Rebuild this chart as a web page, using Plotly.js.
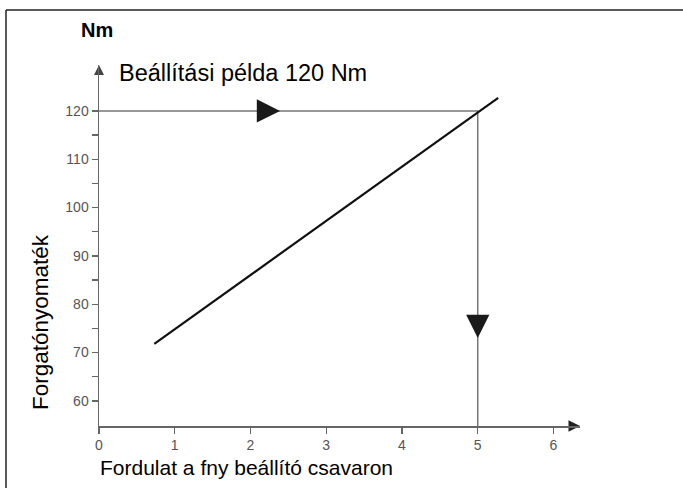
<!DOCTYPE html>
<html>
<head>
<meta charset="utf-8">
<script src="https://cdn.plot.ly/plotly-3.0.1.min.js"></script>
<style>html,body{margin:0;padding:0;background:#fff;}#chart{width:683px;height:488px;}</style>
</head>
<body>
<div id="chart"></div>
<script>
// ---- data ----
const xTickVals = [0, 1, 2, 3, 4, 5, 6];
const xTickText = ['0', '1', '2', '3', '4', '5', '6'];
const yTickVals = [60, 65, 70, 75, 80, 85, 90, 95, 100, 105, 110, 115, 120];
const yTickText = ['60', '', '70', '', '80', '', '90', '', '100', '', '110', '', '120'];
const torqueX = [0.73, 5.27];          // Fordulat
const torqueY = [71.8, 122.7];         // Nm
const exampleX = [0, 5, 5];            // example path: 120 Nm -> 5 turns
const exampleY = [120, 120, 54.8];
const arrowRight = {x: 2.39, y: 120, tailX: 2.15};
const arrowDown = {x: 5, y: 73.0, tailY: 77.5};
const xRange = [0, 6.35];
const yRange = [54.8, 129.5];

const FONT = 'Liberation Sans, Arial, sans-serif';
const AX = '#666';

const traces = [
  {x: exampleX, y: exampleY, mode: 'lines', line: {color: '#777', width: 1.5}, hoverinfo: 'skip'},
  {x: torqueX, y: torqueY, mode: 'lines', line: {color: '#111', width: 2.2}, hoverinfo: 'skip'},
  {x: [xRange[1]], y: [yRange[0]], mode: 'markers', cliponaxis: false,
   marker: {symbol: 'arrow-right', size: 11.5, color: '#222'}, hoverinfo: 'skip'},
  {x: [0], y: [yRange[1]], mode: 'markers', cliponaxis: false,
   marker: {symbol: 'arrow-up', size: 10, color: '#444'}, hoverinfo: 'skip'}
];

const px = v => (v - 99) / 481;
const py = v => (426 - v) / 361;

const layout = {
  width: 683, height: 488,
  margin: {l: 99, r: 103, t: 65, b: 62},
  paper_bgcolor: '#fff', plot_bgcolor: '#fff',
  showlegend: false,
  font: {family: FONT, color: '#000'},
  xaxis: {range: xRange, tickvals: xTickVals, ticktext: xTickText, showline: true, linecolor: AX, linewidth: 1.5,
          ticks: 'outside', ticklen: 6, tickcolor: AX, tickwidth: 1.3, showgrid: false, zeroline: false,
          tickfont: {size: 14, color: '#555', family: FONT}, fixedrange: true},
  yaxis: {range: yRange, tickvals: yTickVals, ticktext: yTickText, showline: true, linecolor: AX, linewidth: 1.5,
          ticks: 'outside', ticklen: 6, tickcolor: AX, tickwidth: 1.3, showgrid: false, zeroline: false,
          tickfont: {size: 14, color: '#555', family: FONT}, fixedrange: true},
  shapes: [
    {type: 'line', xref: 'paper', yref: 'paper', x0: px(6), x1: px(690), y0: py(10), y1: py(10), line: {color: '#222', width: 1.5}},
    {type: 'line', xref: 'paper', yref: 'paper', x0: px(6), x1: px(6), y0: py(10), y1: py(495), line: {color: '#222', width: 1.5}}
  ],
  annotations: [
    {xref: 'paper', yref: 'paper', x: px(79), y: py(30), xanchor: 'left', yanchor: 'middle', showarrow: false,
     text: '<b>Nm</b>', font: {size: 20, family: FONT}},
    {xref: 'paper', yref: 'paper', x: px(117), y: py(73), xanchor: 'left', yanchor: 'middle', showarrow: false,
     text: 'Beállítási példa 120 Nm', font: {size: 23.5, family: FONT}},
    {xref: 'paper', yref: 'paper', x: px(40), y: py(322), xanchor: 'center', yanchor: 'middle', showarrow: false,
     textangle: -90, text: 'Forgatónyomaték', font: {size: 22.5, family: FONT}},
    {xref: 'paper', yref: 'paper', x: px(98), y: py(467), xanchor: 'left', yanchor: 'middle', showarrow: false,
     text: 'Fordulat a fny beállító csavaron', font: {size: 21, family: FONT}},
    {xref: 'x', yref: 'y', axref: 'x', ayref: 'y', x: arrowRight.x, y: arrowRight.y, ax: arrowRight.tailX, ay: arrowRight.y,
     text: '', showarrow: true, arrowhead: 2, arrowsize: 3.1, arrowwidth: 1.5, arrowcolor: '#1a1a1a'},
    {xref: 'x', yref: 'y', axref: 'x', ayref: 'y', x: arrowDown.x, y: arrowDown.y, ax: arrowDown.x, ay: arrowDown.tailY,
     text: '', showarrow: true, arrowhead: 2, arrowsize: 3.1, arrowwidth: 1.5, arrowcolor: '#1a1a1a'}
  ]
};

Plotly.newPlot('chart', traces, layout, {staticPlot: true, displayModeBar: false});
</script>
</body>
</html>
